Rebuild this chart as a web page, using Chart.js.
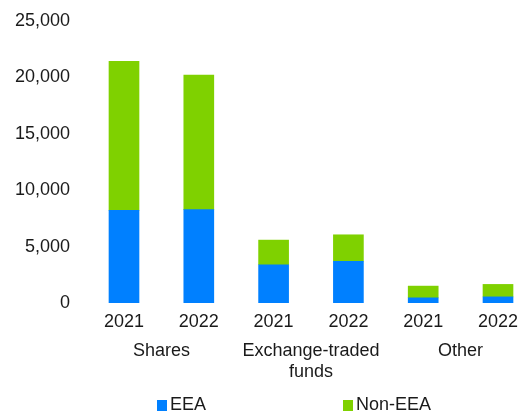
<!DOCTYPE html>
<html>
<head>
<meta charset="utf-8">
<script src="https://cdn.jsdelivr.net/npm/chart.js@4"></script>
<style>
  html, body { margin: 0; padding: 0; background: #fff; }
  #wrap { position: relative; width: 520px; height: 412px; }
  #legend { position: absolute; left: 0; top: 394px; width: 520px; height: 20px;
    font-family: 'Liberation Sans', Arial, sans-serif; font-size: 18px; color: #1a1a1a; }
  .item { position: absolute; top: 0; line-height: 20px; white-space: nowrap; }
  .item span.box { display: inline-block; width: 10px; height: 11px; margin-right: 3px; vertical-align: -1px; }
</style>
</head>
<body>
<div id="wrap">
  <canvas id="chart" width="520" height="412"></canvas>
  <div id="legend"></div>
</div>
<script>
/* Categories: year per bar, grouped under an asset type */
var years = ['2021', '2022', '2021', '2022', '2021', '2022'];
var groups = [['Shares'], ['Exchange-traded', 'funds'], ['Other']];
var yTicks = [0, 5000, 10000, 15000, 20000, 25000];

/* Series values */
var eeaValues    = [8230, 8290, 3410, 3720, 475, 560];
var nonEeaValues = [13190, 11910, 2180, 2340, 1040, 1105];

var TEXT = '#1a1a1a';
var FONT = { family: "'Liberation Sans', Arial, sans-serif", size: 18 };

/* invisible tick marks are used as spacing between axis and labels */
function spacer(len) {
  return { display: true, drawOnChartArea: false, drawTicks: true, tickLength: len, color: 'rgba(0,0,0,0)' };
}

var chart = new Chart(document.getElementById('chart'), {
  type: 'bar',
  data: {
    labels: years,
    datasets: [
      { label: 'EEA', data: eeaValues, backgroundColor: '#0080FF', barThickness: 30, clip: false },
      { label: 'Non-EEA', data: nonEeaValues, backgroundColor: '#7FD100', barThickness: 30, clip: false }
    ]
  },
  options: {
    responsive: false,
    animation: false,
    locale: 'en-US',
    layout: { padding: { top: 21, right: 2, bottom: 29, left: 0 } },
    scales: {
      x: {
        stacked: true,
        offset: false,
        grid: spacer(8),
        border: { display: false },
        afterFit: function(axis) { axis.paddingRight = 22; },
        ticks: { color: TEXT, font: FONT, padding: 0, maxRotation: 0, autoSkip: false }
      },
      groups: {
        type: 'linear',
        position: 'bottom',
        offset: false,
        min: 0,
        max: years.length - 1,
        grid: spacer(7),
        border: { display: false },
        afterBuildTicks: function(axis) {
          axis.ticks = groups.map(function(g, i) { return { value: i * 2 + 0.5 }; });
        },
        ticks: {
          color: TEXT, font: FONT, padding: 0, maxRotation: 0, autoSkip: false,
          callback: function(value) { return groups[Math.round((value - 0.5) / 2)]; }
        }
      },
      y: {
        stacked: true,
        min: 0,
        max: 25000,
        grid: spacer(50),
        border: { display: false },
        afterBuildTicks: function(axis) {
          axis.ticks = yTicks.map(function(v) { return { value: v }; });
        },
        afterFit: function(axis) { axis.width = 124; },
        ticks: { color: TEXT, font: FONT, padding: 4 }
      }
    },
    plugins: {
      legend: { display: false },
      tooltip: { enabled: false }
    }
  }
});

/* HTML legend built from the chart's own legend items */
var legendEl = document.getElementById('legend');
var legendX = [157, 343];
chart.options.plugins.legend.labels.generateLabels(chart).forEach(function(item, i) {
  var div = document.createElement('div');
  div.className = 'item';
  div.style.left = legendX[i] + 'px';
  var box = document.createElement('span');
  box.className = 'box';
  box.style.background = item.fillStyle;
  div.appendChild(box);
  div.appendChild(document.createTextNode(item.text));
  legendEl.appendChild(div);
});
</script>
</body>
</html>
